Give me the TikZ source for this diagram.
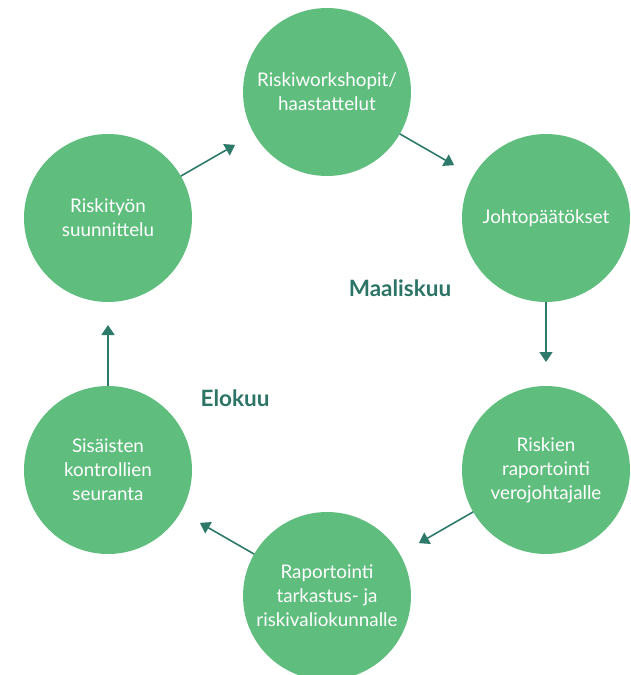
\documentclass[tikz,border=0pt]{standalone}
\usepackage{fontspec}
\setmainfont{Lato}
\usetikzlibrary{arrows.meta}
\definecolor{cgreen}{RGB}{95,190,126}
\definecolor{cteal}{RGB}{46,122,106}
\definecolor{clabel}{RGB}{44,116,102}
\begin{document}
\begin{tikzpicture}[x=1pt,y=-1pt,
  stage/.style={circle,fill=cgreen,minimum size=168pt,inner sep=0pt,outer sep=0pt,
    text=white,align=center,font=\fontsize{18.8}{24}\selectfont},
  flow/.style={draw=cteal,line width=1.6pt,-{Triangle[width=13pt,length=10pt]},shorten >=22pt},
  month/.style={text=clabel,font=\fontsize{22.5}{26}\selectfont\bfseries}]
\useasboundingbox (0,0) rectangle (630,675);
\clip (0,0) rectangle (630,675);
\node[stage] (ws) at (327,92) {Riskiworkshopit/\\haastattelut};
\node[stage] (jp) at (546,218) {Johtopäätökset};
\node[stage] (rr) at (546,470) {Riskien\\raportointi\\verojohtajalle};
\node[stage] (rt) at (327,596) {Raportointi\\tarkastus- ja\\riskivaliokunnalle};
\node[stage] (sk) at (108,470) {Sisäisten\\kontrollien\\seuranta};
\node[stage] (rs) at (108,218) {Riskityön\\suunnittelu};
\node[month] (m1) at (400,288) {Maaliskuu};
\node[month] (m2) at (235,398) {Elokuu};
\draw[flow] (rs) -- (ws);
\draw[flow] (ws) -- (jp);
\draw[flow,shorten >=24pt] (jp) -- (rr);
\draw[flow] (rr) -- (rt);
\draw[flow] (rt) -- (sk);
\draw[flow,shorten >=23pt] (sk) -- (rs);
\end{tikzpicture}
\end{document}
